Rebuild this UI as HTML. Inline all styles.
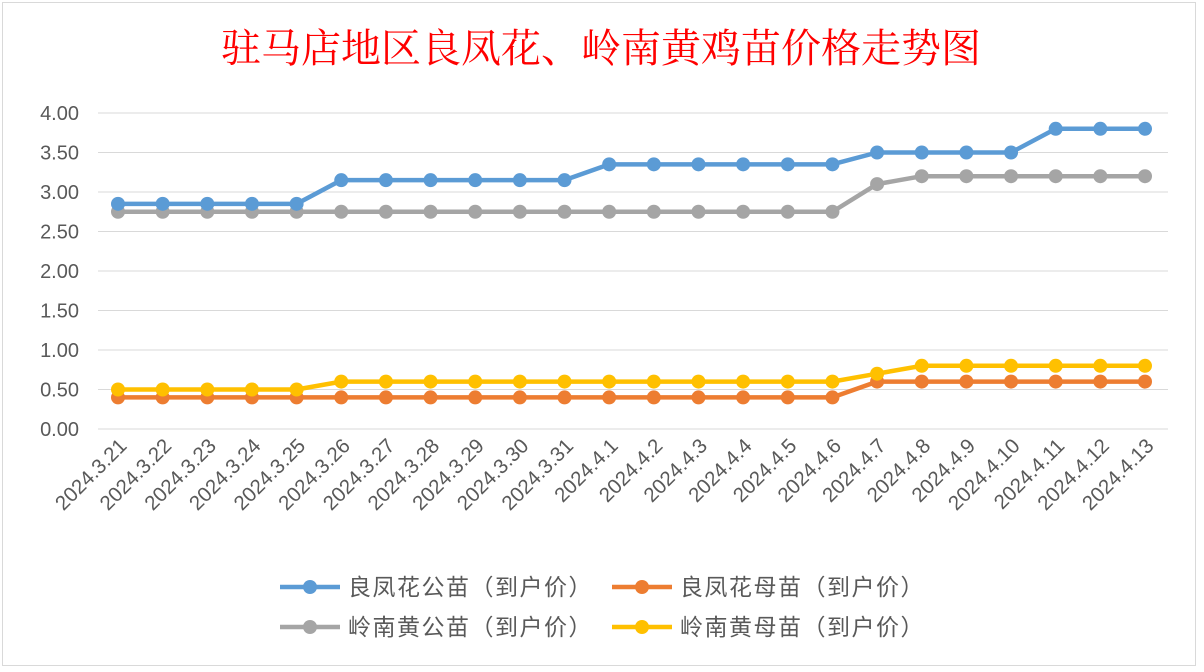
<!DOCTYPE html>
<html><head><meta charset="utf-8"><style>
body{margin:0;background:#fff;}
svg{display:block;font-family:"Liberation Sans","Noto Sans CJK SC",sans-serif;}
</style></head><body>
<svg id="c" width="1204" height="672">
<rect x="0" y="0" width="1204" height="672" fill="#fff"/>
<rect x="2.5" y="2.5" width="1193" height="663" fill="#fff" stroke="#d9d9d9"/>
<text x="601" y="62" text-anchor="middle" fill="#ff0000" font-size="40" font-family="'Liberation Serif','Noto Serif CJK SC',serif">驻马店地区良凤花、岭南黄鸡苗价格走势图</text>
<g id="grid"></g><g id="xl"></g><g id="series"></g><g id="legend"></g>
</svg>
<script>
const categories=["2024.3.21","2024.3.22","2024.3.23","2024.3.24","2024.3.25","2024.3.26","2024.3.27","2024.3.28","2024.3.29","2024.3.30","2024.3.31","2024.4.1","2024.4.2","2024.4.3","2024.4.4","2024.4.5","2024.4.6","2024.4.7","2024.4.8","2024.4.9","2024.4.10","2024.4.11","2024.4.12","2024.4.13"];
const lfMale=[2.85,2.85,2.85,2.85,2.85,3.15,3.15,3.15,3.15,3.15,3.15,3.35,3.35,3.35,3.35,3.35,3.35,3.5,3.5,3.5,3.5,3.8,3.8,3.8];
const lfFemale=[0.4,0.4,0.4,0.4,0.4,0.4,0.4,0.4,0.4,0.4,0.4,0.4,0.4,0.4,0.4,0.4,0.4,0.6,0.6,0.6,0.6,0.6,0.6,0.6];
const lnMale=[2.75,2.75,2.75,2.75,2.75,2.75,2.75,2.75,2.75,2.75,2.75,2.75,2.75,2.75,2.75,2.75,2.75,3.1,3.2,3.2,3.2,3.2,3.2,3.2];
const lnFemale=[0.5,0.5,0.5,0.5,0.5,0.6,0.6,0.6,0.6,0.6,0.6,0.6,0.6,0.6,0.6,0.6,0.6,0.7,0.8,0.8,0.8,0.8,0.8,0.8];
const yTicks=[0,0.5,1,1.5,2,2.5,3,3.5,4];
const seriesNames=["良凤花公苗（到户价）","良凤花母苗（到户价）","岭南黄公苗（到户价）","岭南黄母苗（到户价）"];
const NS="http://www.w3.org/2000/svg";
const X0=118,X1=1145,Y0=429,Y1=113,YMAX=4;
const x=i=>X0+(X1-X0)*i/(categories.length-1);
const y=v=>Y0-(Y0-Y1)*v/YMAX;
function mk(t,a,p){const e=document.createElementNS(NS,t);for(const k in a)e.setAttribute(k,a[k]);p.appendChild(e);return e;}
const g=document.getElementById('grid');
yTicks.forEach(v=>{
 const l=mk('line',{x1:98,x2:1168,y1:y(v),y2:y(v),stroke:'#d9d9d9','stroke-width':1},g);
 
 
 const t=mk('text',{x:79,y:y(v)+7,'text-anchor':'end','font-size':20,fill:'#595959'},g);
 t.textContent=v.toFixed(2);
 
 
});
const xl=document.getElementById('xl');
categories.forEach((c,i)=>{
 const t=mk('text',{transform:`translate(${x(i)+10},${447}) rotate(-45)`,'text-anchor':'end','font-size':20.5,fill:'#595959'},xl);
 t.textContent=c;
 
 
});
const S=document.getElementById('series');
const data=[[lnMale,'#a5a5a5'],[lfMale,'#5b9bd5'],[lfFemale,'#ed7d31'],[lnFemale,'#ffc000']];
const names=['series-lingnan-male','series-liangfeng-male','series-liangfeng-female','series-lingnan-female'];
data.forEach(([d,col],k)=>{
 const gg=mk('g',{},S);
 
 
 const pl=mk('polyline',{points:d.map((v,i)=>x(i)+','+y(v)).join(' '),fill:'none',stroke:col,'stroke-width':4.5,'stroke-linejoin':'round'},gg);
 
 
 d.forEach((v,i)=>{
  const c=mk('circle',{cx:x(i),cy:y(v),r:7,fill:col},gg);
  
  
 });
});
const L=document.getElementById('legend');
const lg=[[280,587,'#5b9bd5',0],[612,587,'#ed7d31',1],[280,627,'#a5a5a5',2],[612,627,'#ffc000',3]];
lg.forEach(([lx,ly,col,k])=>{
 const gg=mk('g',{},L);
 
 
 mk('line',{x1:lx,x2:lx+60,y1:ly,y2:ly,stroke:col,'stroke-width':4.5},gg);
 mk('circle',{cx:lx+30,cy:ly,r:7,fill:col},gg);
 const t=mk('text',{x:lx+68,y:ly+8,'font-size':23,'letter-spacing':1.5,fill:'#595959'},gg);
 t.textContent=seriesNames[k];
});
</script>
</body></html>
